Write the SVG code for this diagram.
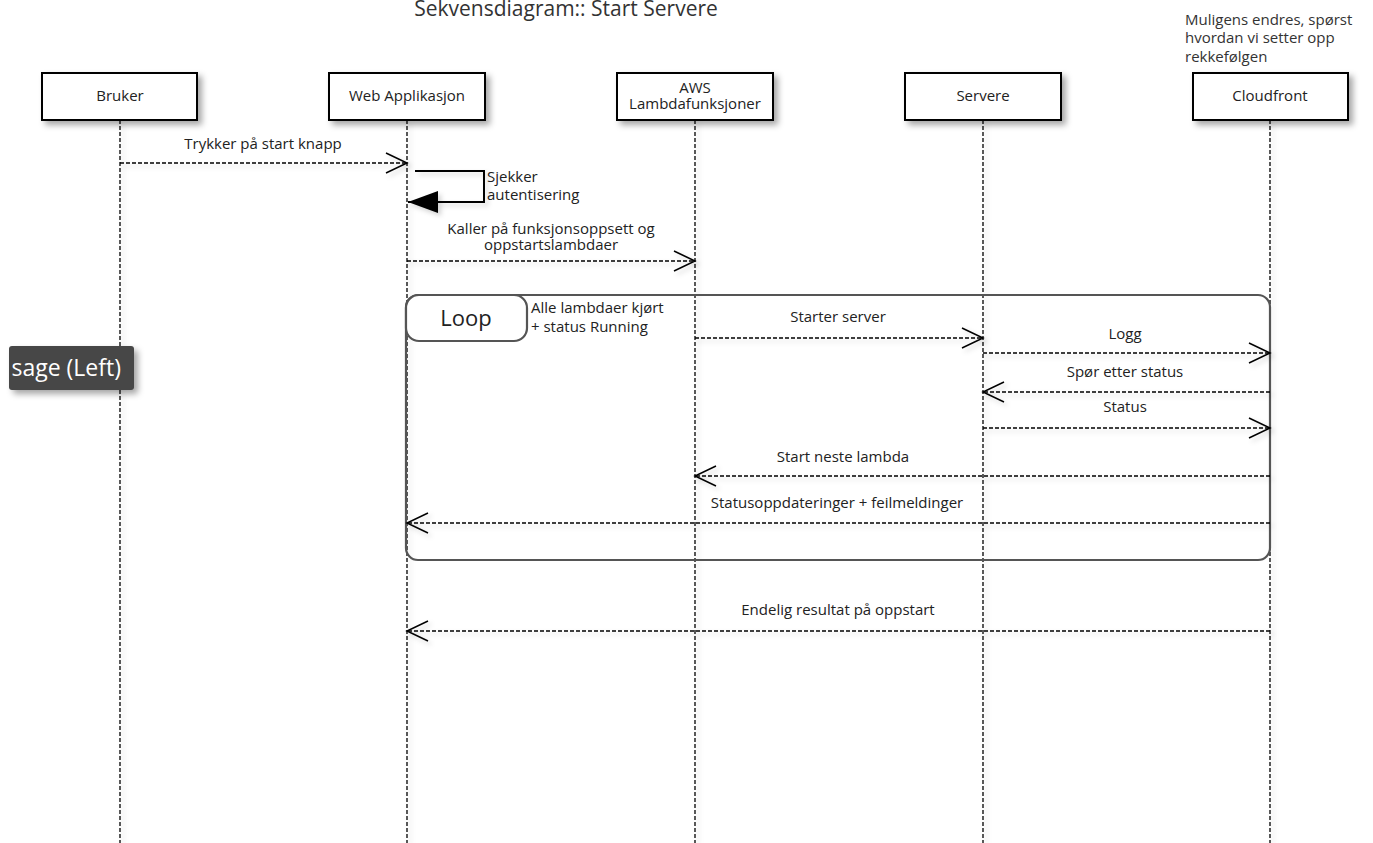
<svg xmlns="http://www.w3.org/2000/svg" width="1373" height="843" viewBox="0 0 1373 843">
<defs>
<filter id="sh" x="-20%" y="-20%" width="150%" height="160%">
<feDropShadow dx="4" dy="4" stdDeviation="3" flood-color="#000" flood-opacity="0.35"/>
</filter>
<filter id="lsh" x="-5%" y="-50%" width="110%" height="300%">
<feDropShadow dx="3" dy="3" stdDeviation="2.5" flood-color="#000" flood-opacity="0.18"/>
</filter>
<marker id="open" viewBox="0 0 24 24" refX="22" refY="12" markerWidth="24" markerHeight="24" markerUnits="userSpaceOnUse" orient="auto">
<path d="M1 2 L22 12 L1 22" fill="none" stroke="#000" stroke-width="1.5"/>
</marker>
<marker id="fill" viewBox="0 0 30 22" refX="30" refY="11" markerWidth="30" markerHeight="22" markerUnits="userSpaceOnUse" orient="auto">
<path d="M0 0 L30 11 L0 22 Z" fill="#000"/>
</marker>
</defs>
<style>
text{font-family:"Open Sans","Liberation Sans",sans-serif;fill:#222;}
.lbl{font-size:15px;}
.mid{text-anchor:middle;}
.box{fill:#fff;stroke:#000;stroke-width:2;}
.life{stroke:#000;stroke-width:1.3;stroke-dasharray:4 2;fill:none;}
.msg{stroke:#000;stroke-width:1.6;stroke-dasharray:4 2;fill:none;marker-end:url(#open);}
</style>
<rect width="1373" height="843" fill="#fff"/>
<text x="566" y="16" class="mid" style="font-size:21px;fill:#333">Sekvensdiagram:: Start Servere</text>
<text class="lbl" style="fill:#333"><tspan x="1185" y="25">Muligens endres, spørst</tspan><tspan x="1185" y="43">hvordan vi setter opp</tspan><tspan x="1185" y="62">rekkefølgen</tspan></text>

<g id="lifelines" filter="url(#lsh)">
<line class="life" x1="120" y1="120" x2="120" y2="843"/>
<line class="life" x1="407" y1="120" x2="407" y2="843"/>
<line class="life" x1="695" y1="120" x2="695" y2="843"/>
<line class="life" x1="983" y1="120" x2="983" y2="843"/>
<line class="life" x1="1270" y1="120" x2="1270" y2="843"/>
</g>

<g id="bruker"><rect class="box" x="42" y="73" width="155" height="47" filter="url(#sh)"/><text x="120" y="101" class="lbl mid">Bruker</text></g>
<g id="webapp"><rect class="box" x="329" y="73" width="156" height="47" filter="url(#sh)"/><text x="407" y="101" class="lbl mid">Web Applikasjon</text></g>
<g id="aws"><rect class="box" x="617" y="73" width="156" height="47" filter="url(#sh)"/><text class="lbl mid"><tspan x="695" y="93">AWS</tspan><tspan x="695" y="109">Lambdafunksjoner</tspan></text></g>
<g id="servere"><rect class="box" x="905" y="73" width="156" height="47" filter="url(#sh)"/><text x="983" y="101" class="lbl mid">Servere</text></g>
<g id="cloudfront"><rect class="box" x="1193" y="73" width="155" height="47" filter="url(#sh)"/><text x="1270" y="101" class="lbl mid">Cloudfront</text></g>

<g id="loop">
<rect x="406" y="295" width="864" height="265" rx="12" fill="none" stroke="#555" stroke-width="2.2"/>
<rect x="406" y="295" width="121" height="46" rx="13" fill="#fff" stroke="#555" stroke-width="2.2"/>
<text x="466" y="326" class="mid" style="font-size:22px">Loop</text>
<text class="lbl"><tspan x="531" y="313">Alle lambdaer kjørt</tspan><tspan x="531" y="332">+ status Running</tspan></text>
</g>

<g id="connectors" filter="url(#lsh)">
<line class="msg" x1="120" y1="163" x2="407" y2="163"/>
<path d="M415 171 H484 V202 H408" fill="none" stroke="#000" stroke-width="2" marker-end="url(#fill)"/>
<line class="msg" x1="407" y1="261" x2="695" y2="261"/>
<line class="msg" x1="695" y1="338" x2="983" y2="338"/>
<line class="msg" x1="983" y1="353" x2="1270" y2="353"/>
<line class="msg" x1="1270" y1="392" x2="983" y2="392"/>
<line class="msg" x1="983" y1="428" x2="1270" y2="428"/>
<line class="msg" x1="1270" y1="476" x2="695" y2="476"/>
<line class="msg" x1="1270" y1="523" x2="407" y2="523"/>
<line class="msg" x1="1270" y1="631" x2="407" y2="631"/>
</g>

<g id="labels">
<text x="263" y="149" class="lbl mid">Trykker på start knapp</text>
<text class="lbl"><tspan x="487" y="182">Sjekker</tspan><tspan x="487" y="200">autentisering</tspan></text>
<text class="lbl mid"><tspan x="551" y="234">Kaller på funksjonsoppsett og</tspan><tspan x="551" y="250">oppstartslambdaer</tspan></text>
<text x="838" y="322" class="lbl mid">Starter server</text>
<text x="1125" y="339" class="lbl mid">Logg</text>
<text x="1125" y="377" class="lbl mid">Spør etter status</text>
<text x="1125" y="412" class="lbl mid">Status</text>
<text x="843" y="462" class="lbl mid">Start neste lambda</text>
<text x="837" y="508" class="lbl mid">Statusoppdateringer + feilmeldinger</text>
<text x="838" y="615" class="lbl mid">Endelig resultat på oppstart</text>
</g>

<g id="tooltip">
<rect x="9" y="346" width="125" height="44" rx="3" fill="#464646" filter="url(#sh)"/>
<text x="121" y="376" style="font-size:23px;fill:#fff;text-anchor:end">sage (Left)</text>
</g>
</svg>
